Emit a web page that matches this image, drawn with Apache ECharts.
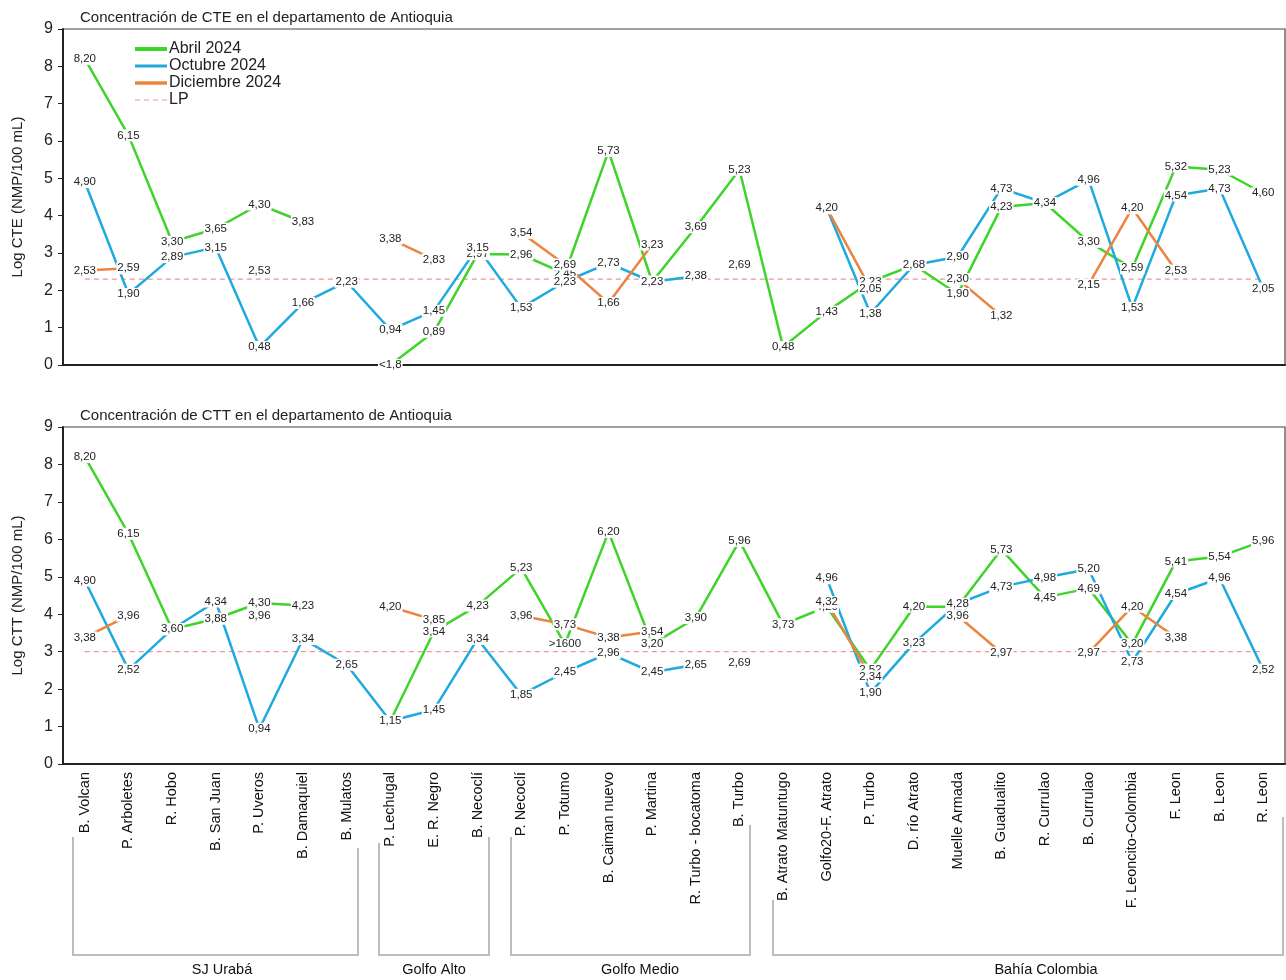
<!DOCTYPE html>
<html><head><meta charset="utf-8">
<script src="https://cdn.jsdelivr.net/npm/echarts@6/dist/echarts.min.js"></script>
<style>html,body{margin:0;padding:0;background:#fff}#c{width:1286px;height:980px}</style>
</head><body><div id="c"></div>
<script>
const categories = ['B. Volcan','P. Arboletes','R. Hobo','B. San Juan','P. Uveros','B. Damaquiel','B. Mulatos','P. Lechugal','E. R. Negro','B. Necoclí','P. Necoclí','P. Totumo','B. Caiman nuevo','P. Martina','R. Turbo - bocatoma','B. Turbo','B. Atrato Matuntugo','Golfo20-F. Atrato','P. Turbo','D. río Atrato','Muelle Armada','B. Guadualito','R. Currulao','B. Currulao','F. Leoncito-Colombia','F. Leon','B. Leon','R. Leon'];
const seriesNames = ['Abril 2024','Octubre 2024','Diciembre 2024','LP'];
const yTicks = [0,1,2,3,4,5,6,7,8,9];

// CTE (top)
const cteAbril     = [8.20,6.15,3.30,3.65,4.30,3.83,null,0,0.89,2.97,2.96,2.45,5.73,2.23,3.69,5.23,0.48,1.43,2.23,2.68,1.90,4.23,4.34,3.30,2.59,5.32,5.23,4.60];
const cteOctubre   = [4.90,1.90,2.89,3.15,0.48,1.66,2.23,0.94,1.45,3.15,1.53,2.23,2.73,2.23,2.38,null,null,4.20,1.38,2.68,2.90,4.73,4.34,4.96,1.53,4.54,4.73,2.05];
const cteDiciembre = [2.53,2.59,null,null,2.53,null,null,3.38,2.83,null,3.54,2.69,1.66,3.23,null,2.69,null,4.20,2.05,null,2.30,1.32,null,2.15,4.20,2.53,null,null];
const cteAbrilText = {7:'<1,8'};
const cteLP = 2.30;

// CTT (bottom)
const cttAbril     = [8.20,6.15,3.60,3.88,4.30,4.23,null,1.15,3.54,4.23,5.23,3.20,6.20,3.20,3.90,5.96,3.73,4.20,2.52,4.20,4.20,5.73,4.45,4.69,3.20,5.41,5.54,5.96];
const cttOctubre   = [4.90,2.52,3.60,4.34,0.94,3.34,2.65,1.15,1.45,3.34,1.85,2.45,2.96,2.45,2.65,null,null,4.96,1.90,3.23,4.28,4.73,4.98,5.20,2.73,4.54,4.96,2.52];
const cttDiciembre = [3.38,3.96,null,null,3.96,null,null,4.20,3.85,null,3.96,3.73,3.38,3.54,null,2.69,null,4.32,2.34,null,3.96,2.97,null,2.97,4.20,3.38,null,null];
const cttAbrilText = {11:'>1600'};
const cttLP = 3.00;

const groupNames = ['SJ Urabá','Golfo Alto','Golfo Medio','Bahía Colombia'];

const colors = ['#3fd42a','#1faadf','#ec8440','#f09595'];
const FONT = 'Liberation Sans, Arial, sans-serif';

function fmt(v){ return v.toFixed(2).replace('.', ','); }

function dataSeries(name, arr, color, gridIdx, overrides){
  return {
    name, type:'line', xAxisIndex:gridIdx, yAxisIndex:gridIdx,
    data: arr, connectNulls:false,
    symbol:'circle', symbolSize:1, showSymbol:true,
    lineStyle:{color, width:2.5}, itemStyle:{color},
    label:{show:true, position:'inside', color:'#222', fontSize:11.5, fontFamily:FONT,
      backgroundColor:'#fff', padding:[0,1],
      formatter: p => (overrides && overrides[p.dataIndex]) ? overrides[p.dataIndex] : fmt(p.value)},
    emphasis:{disabled:true}, animation:false, z:3
  };
}
function lpSeries(v, gridIdx){
  return {
    name:'LP', type:'line', xAxisIndex:gridIdx, yAxisIndex:gridIdx,
    data: categories.map(()=>v), symbol:'none', silent:true,
    lineStyle:{color:colors[3], width:1.2, type:[5,4]}, itemStyle:{color:colors[3]},
    animation:false, z:1
  };
}

const grids = [
  {left:63, right:1, top:29, height:336, show:true, borderColor:'#444', borderWidth:1.2},
  {left:63, right:1, top:427, height:337, show:true, borderColor:'#444', borderWidth:1.2}
];
function xAxis(gi, showLabels){
  return {type:'category', gridIndex:gi, data:categories, boundaryGap:true,
    axisLine:{lineStyle:{color:'#222', width:2}},
    axisTick:{alignWithLabel:true, length:5, lineStyle:{color:'#222'}},
    axisLabel:{show:showLabels, rotate:90, fontSize:14.5, color:'#111', fontFamily:FONT, margin:8, interval:0},
    splitLine:{show:false}};
}
function yAxis(gi, name){
  return {type:'value', gridIndex:gi, min:0, max:9, interval:1, name,
    nameLocation:'middle', nameGap:38, nameRotate:90,
    nameTextStyle:{fontSize:15, color:'#222', fontFamily:FONT},
    axisLine:{show:true, lineStyle:{color:'#222', width:2}},
    axisTick:{show:true, length:5, lineStyle:{color:'#222'}},
    axisLabel:{fontSize:16, color:'#222', fontFamily:FONT, margin:10, formatter: v => yTicks.includes(v) ? String(v) : ''},
    splitLine:{show:false}};
}

function bracket(pts){
  return {type:'polyline', shape:{points:pts}, style:{stroke:'#bdbdbd', lineWidth:2, fill:null}, silent:true};
}
function gtext(t, x){
  return {type:'text', x, y:970, style:{text:t, fontSize:14.5, fontFamily:FONT, fill:'#111', align:'center', verticalAlign:'middle'}, silent:true};
}

const option = {
  backgroundColor:'#fff',
  animation:false,
  textStyle:{fontFamily:FONT},
  title:[
    {text:'Concentración de CTE en el departamento de Antioquia', left:75, top:5, textStyle:{fontSize:15, fontWeight:'normal', color:'#222', fontFamily:FONT}},
    {text:'Concentración de CTT en el departamento de Antioquia', left:75, top:403, textStyle:{fontSize:15, fontWeight:'normal', color:'#222', fontFamily:FONT}}
  ],
  legend:{
    data:[
      {name:seriesNames[0], lineStyle:{width:4}},
      {name:seriesNames[1], lineStyle:{width:3}},
      {name:seriesNames[2], lineStyle:{width:3.5}},
      {name:seriesNames[3], lineStyle:{width:1.2}}
    ],
    orient:'vertical', left:133, top:41, padding:0,
    itemWidth:32, itemHeight:12, itemGap:1,
    itemStyle:{opacity:0},
    textStyle:{fontSize:16, color:'#222', fontFamily:FONT, padding:[0,0,0,-3]},
    selectedMode:false
  },
  grid:grids,
  xAxis:[xAxis(0,false), xAxis(1,true)],
  yAxis:[yAxis(0,'Log CTE (NMP/100 mL)'), yAxis(1,'Log CTT (NMP/100 mL)')],
  series:[
    lpSeries(cteLP,0),
    dataSeries(seriesNames[0], cteAbril, colors[0], 0, cteAbrilText),
    dataSeries(seriesNames[1], cteOctubre, colors[1], 0, null),
    dataSeries(seriesNames[2], cteDiciembre, colors[2], 0, null),
    lpSeries(cttLP,1),
    dataSeries(seriesNames[0], cttAbril, colors[0], 1, cttAbrilText),
    dataSeries(seriesNames[1], cttOctubre, colors[1], 1, null),
    dataSeries(seriesNames[2], cttDiciembre, colors[2], 1, null)
  ],
  graphic:[
    bracket([[73,837],[73,955],[358,955],[358,848]]),
    bracket([[379,843],[379,955],[489,955],[489,837]]),
    bracket([[511,837],[511,955],[750,955],[750,825]]),
    bracket([[773,900],[773,955],[1283,955],[1283,817]]),
    gtext(groupNames[0],222), gtext(groupNames[1],434), gtext(groupNames[2],640), gtext(groupNames[3],1046)
  ]
};
const chart = echarts.init(document.getElementById('c'), null, {renderer:'canvas'});
chart.setOption(option);
</script></body></html>
